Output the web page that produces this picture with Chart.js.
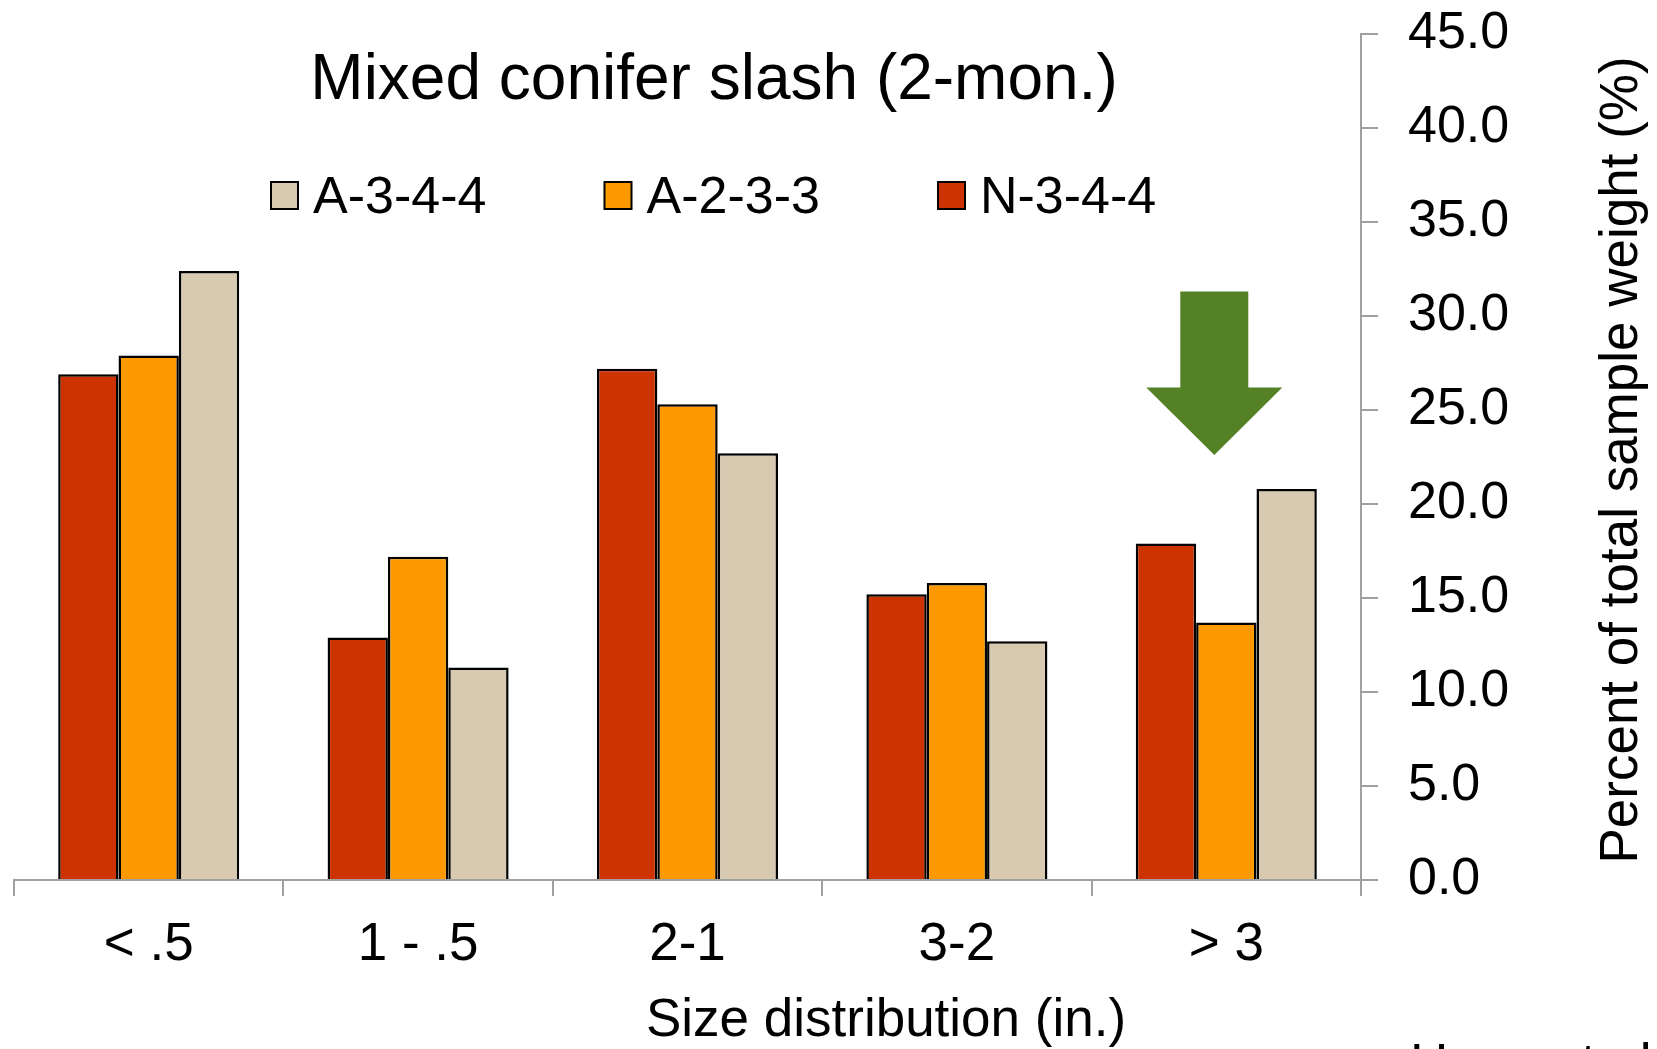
<!DOCTYPE html>
<html>
<head>
<meta charset="utf-8">
<script src="https://cdn.jsdelivr.net/npm/chart.js@4.4.0/dist/chart.umd.min.js"></script>
<style>
html, body { margin: 0; padding: 0; background: #fff; }
#wrap { width: 1657px; height: 1049px; }
</style>
</head>
<body>
<div id="wrap"><canvas id="slashChart"></canvas></div>
<script>
// size classes along the bottom
var sizeClasses = ['< .5', '1 - .5', '2-1', '3-2', '> 3'];

// percent of total sample weight
var n344 = [26.9, 12.9, 27.2, 15.2, 17.9];
var a233 = [27.9, 17.2, 25.3, 15.8, 13.7];
var a344 = [32.4, 11.3, 22.7, 12.7, 20.8];

var yMin = 0;
var yMax = 45;
var yStep = 5;

var chartTitle = 'Mixed conifer slash (2-mon.)';
var xTitle = 'Size distribution (in.)';
var yTitle = 'Percent of total sample weight (%)';
var credit = 'Hann et al. 20';

var FONT = "'Liberation Sans', Arial, Helvetica, sans-serif";
var AXIS_GREY = '#a0a0a0';

// title, legend, arrow and axis titles drawn on top
var overlay = {
    id: 'overlay',
    afterDraw: function(chart) {
        var c = chart.ctx;
        var xs = chart.scales.x;
        var ys = chart.scales.y;
        c.save();
        c.fillStyle = '#000';
        c.textBaseline = 'alphabetic';

        c.font = '64px ' + FONT;
        c.textAlign = 'center';
        c.fillText(chartTitle, 714, 99);

        // legend (reverse of dataset order)
        var sets = chart.data.datasets.slice().reverse();
        c.font = '52px ' + FONT;
        c.textAlign = 'left';
        sets.forEach(function(ds, i) {
            var bx = 271 + i * 333.5;
            c.fillStyle = ds.backgroundColor;
            c.fillRect(bx, 182, 27, 27);
            c.lineWidth = 2;
            c.strokeStyle = '#000';
            c.strokeRect(bx, 182, 27, 27);
            c.fillStyle = '#000';
            c.fillText(ds.label, bx + 42, 213);
        });

        // green arrow pointing at the > 3 group
        var cx = xs.getPixelForValue(4) - 12;
        var yTop = ys.getPixelForValue(31.3);
        var yWing = ys.getPixelForValue(26.2);
        var yTip = ys.getPixelForValue(22.6);
        c.fillStyle = '#548126';
        c.beginPath();
        c.moveTo(cx - 34, yTop);
        c.lineTo(cx + 34, yTop);
        c.lineTo(cx + 34, yWing);
        c.lineTo(cx + 68, yWing);
        c.lineTo(cx, yTip);
        c.lineTo(cx - 68, yWing);
        c.lineTo(cx - 34, yWing);
        c.closePath();
        c.fill();

        c.fillStyle = '#000';
        c.font = '53px ' + FONT;
        c.textAlign = 'center';
        c.fillText(xTitle, 886, 1036);

        c.textAlign = 'left';
        c.fillText(credit, 1410, 1081);

        c.save();
        c.translate(1637, 460);
        c.rotate(-Math.PI / 2);
        c.textAlign = 'center';
        c.fillText(yTitle, 0, 0);
        c.restore();

        c.restore();
    }
};

var ctx = document.getElementById('slashChart').getContext('2d');
var slashChart = new Chart(ctx, {
    type: 'bar',
    data: {
        labels: sizeClasses,
        datasets: [
            { label: 'N-3-4-4', data: n344, backgroundColor: '#cc3300' },
            { label: 'A-2-3-3', data: a233, backgroundColor: '#ff9900' },
            { label: 'A-3-4-4', data: a344, backgroundColor: '#d8cab0' }
        ]
    },
    options: {
        responsive: true,
        maintainAspectRatio: false,
        animation: false,
        layout: { padding: { left: 14, top: 34, right: 0, bottom: 0 } },
        datasets: {
            bar: {
                borderColor: '#000',
                borderWidth: 2.5,
                categoryPercentage: 0.672,
                barPercentage: 1.0
            }
        },
        plugins: {
            legend: { display: false },
            title: { display: false },
            tooltip: { enabled: false }
        },
        scales: {
            x: {
                offset: true,
                grid: {
                    offset: true,
                    drawOnChartArea: false,
                    drawTicks: true,
                    tickLength: 16,
                    color: AXIS_GREY,
                    lineWidth: 2
                },
                border: { color: AXIS_GREY, width: 2 },
                ticks: {
                    color: '#000',
                    padding: 18,
                    maxRotation: 0,
                    font: { family: FONT, size: 53 }
                },
                afterFit: function(scale) {
                    scale.height = 169;
                    scale.paddingLeft = 0;
                    scale.paddingRight = 0;
                }
            },
            y: {
                position: 'right',
                min: yMin,
                max: yMax,
                grid: {
                    drawOnChartArea: false,
                    drawTicks: true,
                    tickLength: 17,
                    color: AXIS_GREY,
                    lineWidth: 2
                },
                border: { color: AXIS_GREY, width: 2 },
                ticks: {
                    stepSize: yStep,
                    color: '#000',
                    padding: 30,
                    font: { family: FONT, size: 52 },
                    callback: function(v) { return v.toFixed(1); }
                },
                afterFit: function(scale) {
                    scale.width = 296;
                    scale.paddingTop = 0;
                    scale.paddingBottom = 0;
                }
            }
        }
    },
    plugins: [overlay]
});
</script>
</body>
</html>
